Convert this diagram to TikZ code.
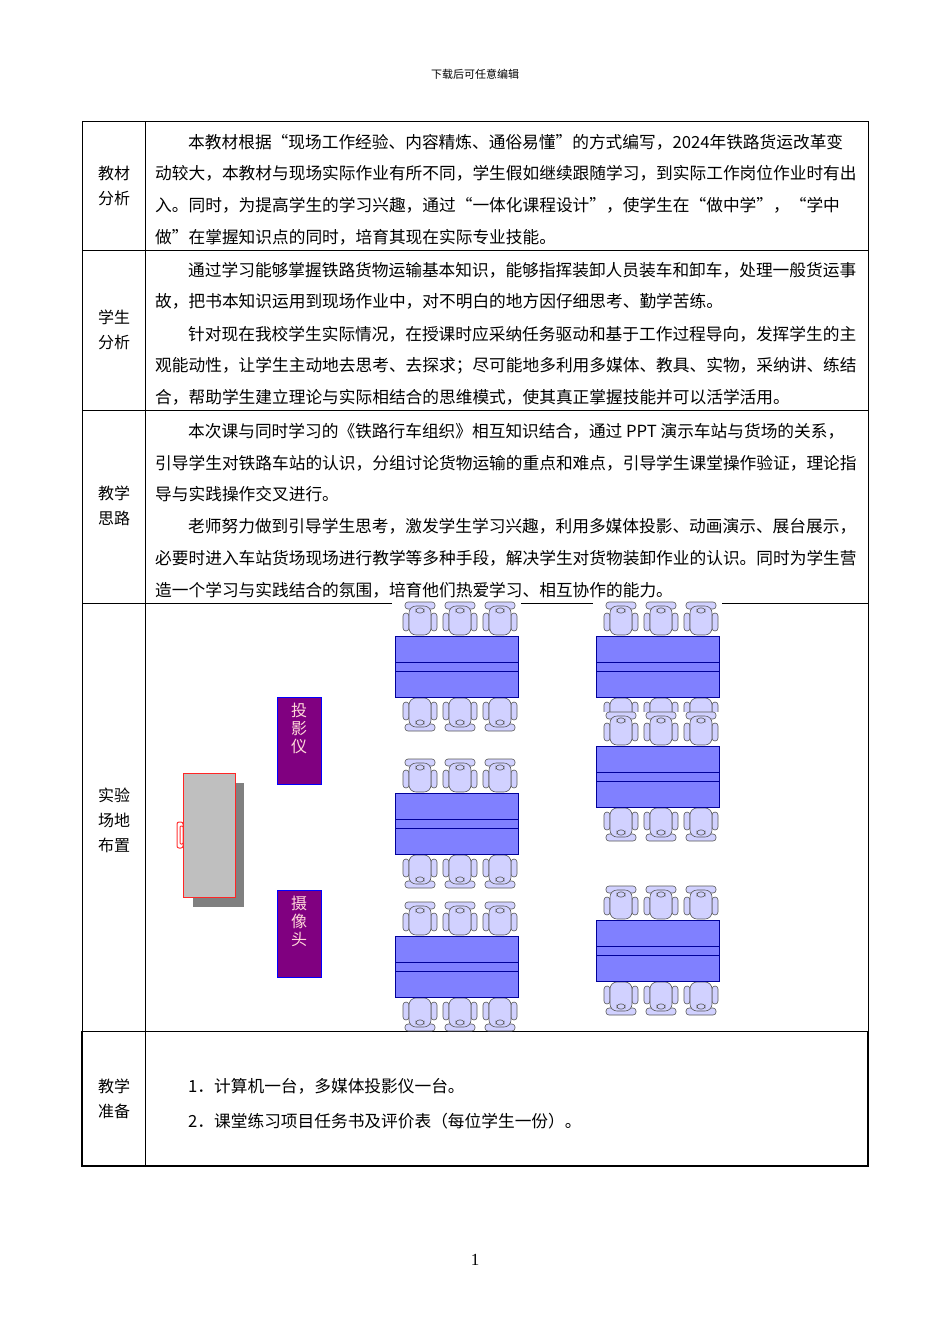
\documentclass[tikz,border=0pt]{standalone}
\usepackage{fontspec}
\setmainfont{Noto Sans CJK SC}
\newfontfamily\serifnum{Liberation Serif}
\begin{document}
\begin{tikzpicture}[x=1pt,y=-1pt,
  txt/.style={anchor=west,inner sep=0pt,font=\fontsize{16.7}{20}\selectfont},
  lbl/.style={align=center,inner sep=0pt,font=\fontsize{16}{25}\selectfont},
  desk/.style={fill=blue!50!white,draw=blue!60!black,line width=1pt},
  chairpart/.style={fill=blue!18!white,draw=black!65,line width=0.6pt,rounded corners=3pt},
  dev/.style={draw=blue,line width=1pt,fill={rgb,255:red,128;green,0;blue,128}},
  chair/.pic={
    \draw[chairpart] (-15,-17) rectangle (15,-10);
    \draw[chairpart] (-17,-6) rectangle (-11,12);
    \draw[chairpart] (11,-6) rectangle (17,12);
    \draw[chairpart,rounded corners=7pt] (-11,-13) rectangle (11,16);
    \draw[chairpart] (-4,-11) rectangle (4,-6);
  }]
\useasboundingbox[fill=white] (0,0) rectangle (950,1344);
\node[font=\fontsize{11}{13}\selectfont] (hdr) at (475,74) {下载后可任意编辑};
\node[font=\serifnum\fontsize{17}{20}\selectfont] (pg) at (475,1260) {1};
% table grid
\draw[line width=0.8pt] (82,121) rectangle (868,1166);
\draw[line width=0.8pt] (145,121) -- (145,1166);
\foreach \yy in {250,410,603,1031} \draw[line width=0.8pt] (82,\yy) -- (868,\yy);
\draw[line width=1.6pt] (82,1031) -- (82,1166) -- (868,1166) -- (868,1031);
% labels
\node[lbl] (l1) at (114,186) {教材\\分析};
\node[lbl] (l2) at (114,330) {学生\\分析};
\node[lbl] (l3) at (114,506) {教学\\思路};
\node[lbl] (l4) at (114,820) {实验\\场地\\布置};
\node[lbl] (l5) at (114,1099) {教学\\准备};
% text
\node[txt] (t1) at (188,142) {本教材根据“现场工作经验、内容精炼、通俗易懂”的方式编写，2024年铁路货运改革变};
\node[txt] (t2) at (155,173) {动较大，本教材与现场实际作业有所不同，学生假如继续跟随学习，到实际工作岗位作业时有出};
\node[txt] (t3) at (155,205) {入。同时，为提高学生的学习兴趣，通过“一体化课程设计”，使学生在“做中学”，“学中};
\node[txt] (t4) at (155,237) {做”在掌握知识点的同时，培育其现在实际专业技能。};
\node[txt] (t5) at (188,270) {通过学习能够掌握铁路货物运输基本知识，能够指挥装卸人员装车和卸车，处理一般货运事};
\node[txt] (t6) at (155,301) {故，把书本知识运用到现场作业中，对不明白的地方因仔细思考、勤学苦练。};
\node[txt] (t7) at (188,334) {针对现在我校学生实际情况，在授课时应采纳任务驱动和基于工作过程导向，发挥学生的主};
\node[txt] (t8) at (155,366) {观能动性，让学生主动地去思考、去探求；尽可能地多利用多媒体、教具、实物，采纳讲、练结};
\node[txt] (t9) at (155,397) {合，帮助学生建立理论与实际相结合的思维模式，使其真正掌握技能并可以活学活用。};
\node[txt] (t10) at (188,431) {本次课与同时学习的《铁路行车组织》相互知识结合，通过 PPT 演示车站与货场的关系，};
\node[txt] (t11) at (155,463) {引导学生对铁路车站的认识，分组讨论货物运输的重点和难点，引导学生课堂操作验证，理论指};
\node[txt] (t12) at (155,494) {导与实践操作交叉进行。};
\node[txt] (t13) at (188,526) {老师努力做到引导学生思考，激发学生学习兴趣，利用多媒体投影、动画演示、展台展示，};
\node[txt] (t14) at (155,558) {必要时进入车站货场现场进行教学等多种手段，解决学生对货物装卸作业的认识。同时为学生营};
\node[txt] (t15) at (155,590) {造一个学习与实践结合的氛围，培育他们热爱学习、相互协作的能力。};
\node[txt] (b1) at (188,1086) {1．计算机一台，多媒体投影仪一台。};
\node[txt] (b2) at (188,1121) {2．课堂练习项目任务书及评价表（每位学生一份）。};
% desk groups
\foreach \gx/\gy in {395/636,395/793,395/936,596/636,596/746,596/920}{
  \fill[white] (\gx-3,\gy-34) rectangle (\gx+126,\gy+95);
  \foreach \dx in {25,65,105}{
    \pic at (\gx+\dx,\gy-17) {chair};
    \pic[rotate=180] at (\gx+\dx,\gy+78) {chair};
  }
  \draw[desk] (\gx,\gy) rectangle (\gx+123,\gy+61);
  \draw[blue!60!black,line width=1pt] (\gx,\gy+26) -- (\gx+123,\gy+26) (\gx,\gy+35) -- (\gx+123,\gy+35);
}
% podium
\fill[gray] (193,783) rectangle (244,907);
\draw[red!80,line width=1pt,rounded corners=2pt] (183,822) rectangle (177,848);
\draw[red!80,fill=white,line width=1pt,rounded corners=1pt] (180,826) rectangle (183,844);
\node[draw=red!85,line width=1pt,fill=black!25,minimum width=52pt,minimum height=124pt,anchor=north west,inner sep=0pt] (podium) at (183,773) {};
% devices
\node[dev,minimum width=44pt,minimum height=87pt,anchor=north west,inner sep=0pt] (proj) at (277,697) {};
\node[align=center,anchor=north,text=pink!60!white,font=\fontsize{16}{18}\selectfont,inner sep=0pt] (projt) at (299,703) {投\\影\\仪};
\node[dev,minimum width=44pt,minimum height=87pt,anchor=north west,inner sep=0pt] (cam) at (277,890) {};
\node[align=center,anchor=north,text=pink!60!white,font=\fontsize{16}{18}\selectfont,inner sep=0pt] (camt) at (299,896) {摄\\像\\头};
\end{tikzpicture}
\end{document}
